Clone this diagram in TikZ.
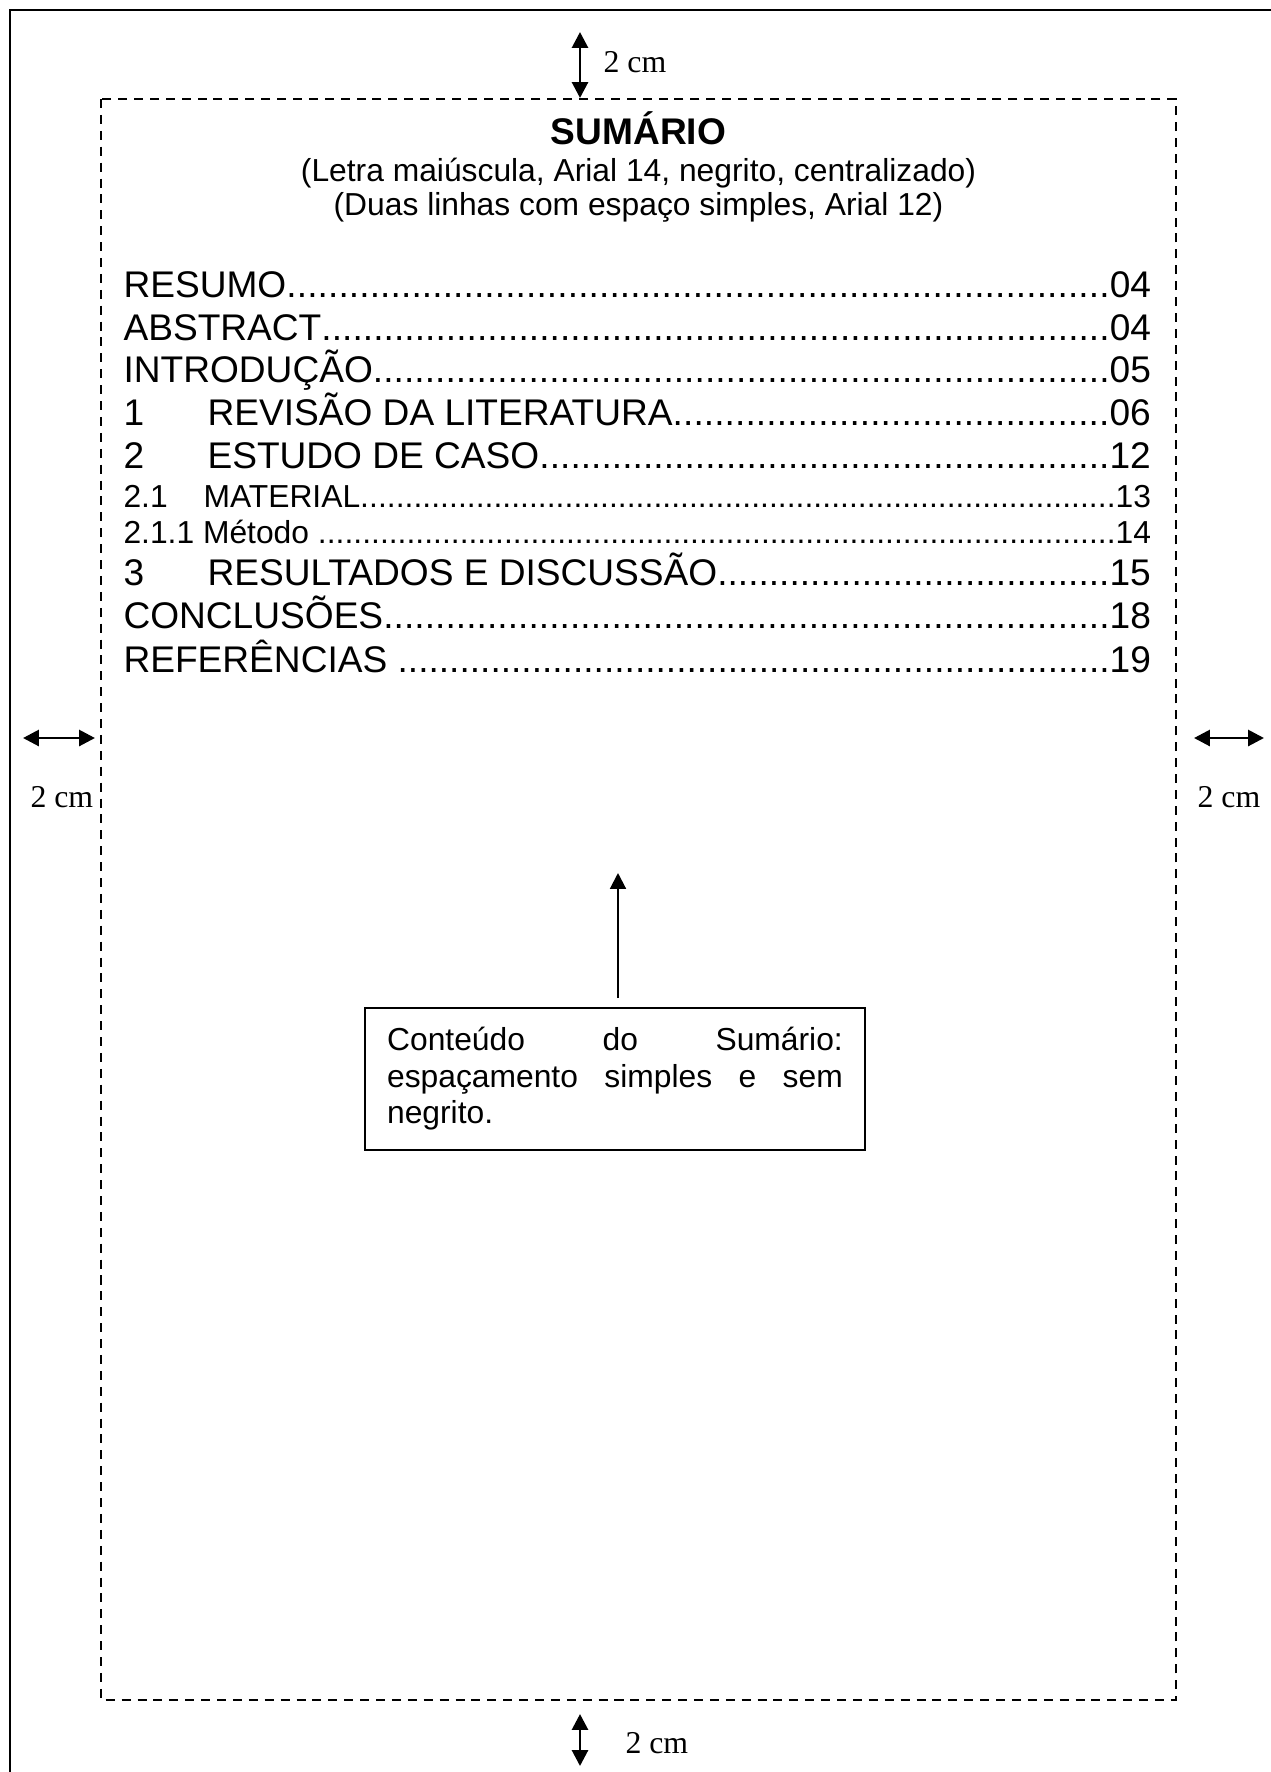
\documentclass[tikz,border=0pt]{standalone}
\usepackage{fontspec}
\newfontfamily\arialfont{Liberation Sans}
\newfontfamily\timesfont{Liberation Serif}
\usetikzlibrary{arrows.meta,positioning,calc}

% one line of the summary: title, dot leaders, page
\newcommand{\tocrow}[2]{\hbox to 387.6pt{#1\xleaders\hbox{.}\hfill#2}}
\newcommand{\tocnum}[2]{\hbox to #2{#1\hfil}}

\begin{document}
\begin{tikzpicture}[
    x=0.3774pt, y=-0.3774pt,
    margin/.style={line width=0.75pt, dash pattern=on 3.4pt off 2.6pt},
    dimarrow/.style={{Triangle[length=6pt,width=6pt]}-{Triangle[length=6pt,width=6pt]}, line width=1.1pt},
    ptr/.style={-{Triangle[length=6pt,width=6pt]}, line width=0.8pt, shorten <=3.4pt},
    cmlabel/.style={anchor=base west, inner sep=0pt, font=\timesfont\fontsize{12}{14}\selectfont},
    head/.style={anchor=base, inner sep=0pt, font=\arialfont\fontsize{14}{16}\selectfont\bfseries},
    hint/.style={anchor=base, inner sep=0pt, font=\arialfont\fontsize{12}{14}\selectfont},
    tocbig/.style={anchor=base west, inner sep=0pt, font=\arialfont\fontsize{14}{16}\selectfont},
    tocsmall/.style={anchor=base west, inner sep=0pt, font=\arialfont\fontsize{12}{14}\selectfont},
    note/.style={draw, line width=0.6pt, text width=172pt, inner xsep=8.3pt, minimum height=53.6pt,
        align=left, font=\arialfont\fontsize{12}{13.8}\selectfont}
]
    \useasboundingbox (0,0) rectangle (1271,1772);

    % page edge and text margins
    \draw[line width=1pt] (10,1772) -- (10,10) -- (1271,10);
    \draw[margin] (101,99) rectangle (1176,1700);

    % margin measures
    \coordinate (topA) at (580,32);
    \coordinate (topB) at (580,98);
    \coordinate (botA) at (580,1714);
    \coordinate (botB) at (580,1766);
    \coordinate (leftA) at (23,738);
    \coordinate (leftB) at (95,738);
    \coordinate (rightA) at (1194,738);
    \coordinate (rightB) at (1264,738);
    \draw[dimarrow] (topA) -- (topB);
    \draw[dimarrow] (botA) -- (botB);
    \draw[dimarrow] (leftA) -- (leftB);
    \draw[dimarrow] (rightA) -- (rightB);
    \node[cmlabel] (toplbl) at (603,72) {2 cm};
    \node[cmlabel] (botlbl) at (625,1753) {2 cm};
    \node[cmlabel] (leftlbl) at (30,807) {2 cm};
    \node[cmlabel] (rightlbl) at (1197,807) {2 cm};

    % heading
    \node[head] (title) at (638.5,144) {SUMÁRIO};
    \node[hint] (hint1) at (638.5,181) {(Letra maiúscula, Arial 14, negrito, centralizado)};
    \node[hint] (hint2) at (638.5,215) {(Duas linhas com espaço simples, Arial 12)};

    % entries
    \node[tocbig] (resumo) at (123,297) {\tocrow{RESUMO}{04}};
    \node[tocbig] (abstract) at (123,340) {\tocrow{ABSTRACT}{04}};
    \node[tocbig] (intro) at (123,382) {\tocrow{INTRODUÇÃO}{05}};
    \node[tocbig] (revisao) at (123,425) {\tocrow{\tocnum{1}{31.7pt}REVISÃO DA LITERATURA}{06}};
    \node[tocbig] (estudo) at (123,468) {\tocrow{\tocnum{2}{31.7pt}ESTUDO DE CASO}{12}};
    \node[tocsmall] (material) at (123,507) {\tocrow{\tocnum{2.1}{30.2pt}MATERIAL}{13}};
    \node[tocsmall] (metodo) at (123,543) {\tocrow{2.1.1 Método\ }{14}};
    \node[tocbig] (resultados) at (123,585) {\tocrow{\tocnum{3}{31.7pt}RESULTADOS E DISCUSSÃO}{15}};
    \node[tocbig] (conclusoes) at (123,628) {\tocrow{CONCLUSÕES}{18}};
    \node[tocbig] (referencias) at (123,672) {\tocrow{REFERÊNCIAS\ }{19}};

    % remark on the content
    \node[note] (conteudo) at (615,1079) {Conteúdo\hfill do\hfill Sumário:\\
        espaçamento\hfill simples\hfill e\hfill sem\\
        negrito.};
    \coordinate (tip) at (618,873);
    \draw[ptr] (conteudo.north -| tip) -- (tip);
\end{tikzpicture}
\end{document}
